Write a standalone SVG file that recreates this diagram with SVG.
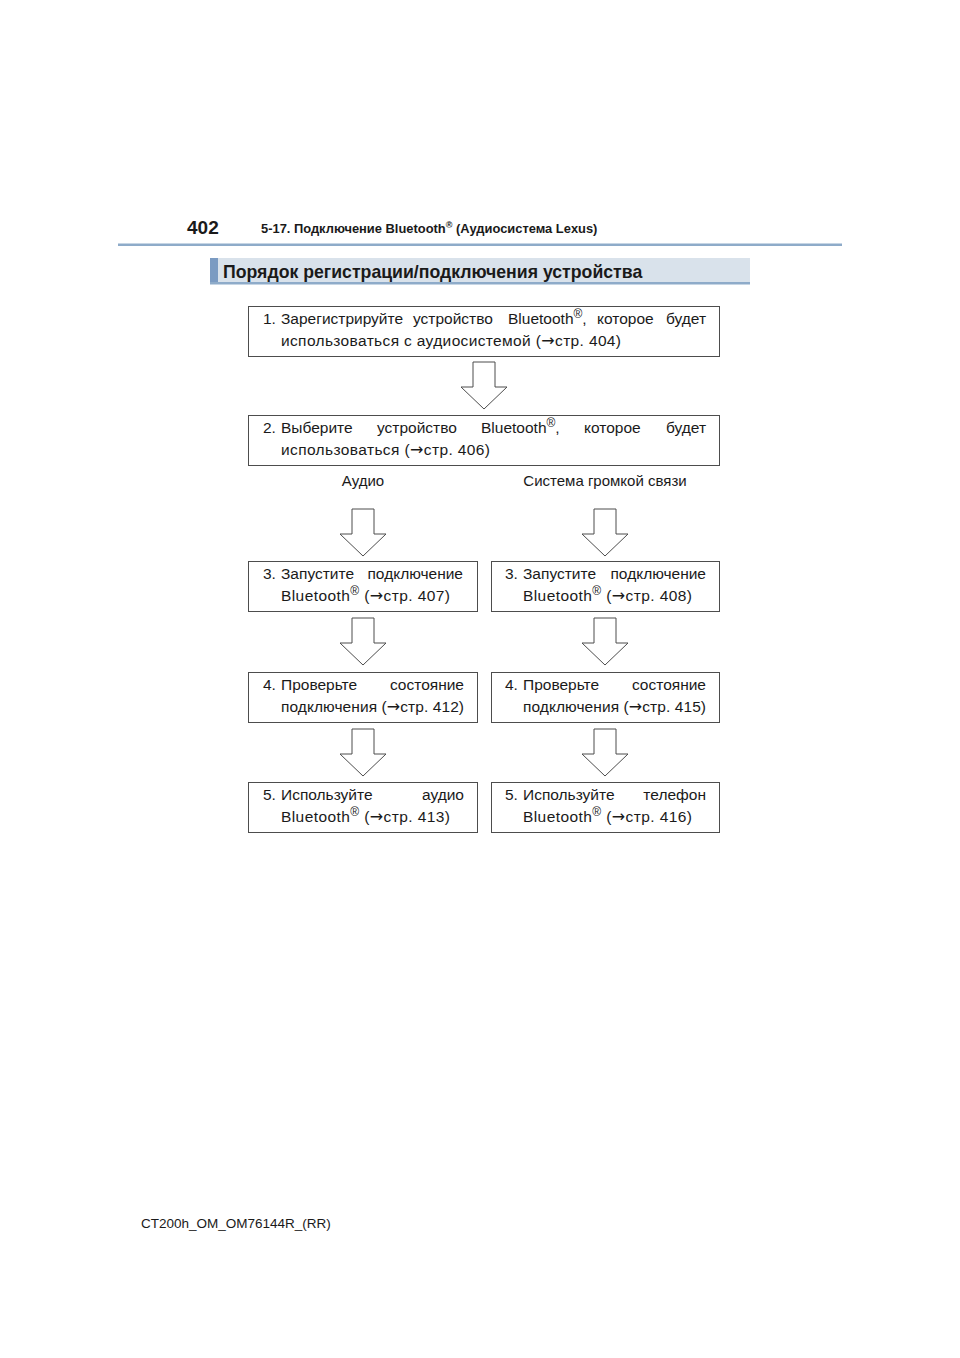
<svg xmlns="http://www.w3.org/2000/svg" xmlns:xlink="http://www.w3.org/1999/xlink" width="960" height="1358" viewBox="0 0 960 1358">
<style>
.t{font-family:"Liberation Sans",Arial,sans-serif;font-size:15.5px;fill:#1a1a1a}
.l{font-size:15px}
.e{text-anchor:end}
.m{text-anchor:middle}
.a{font-family:"DejaVu Sans",sans-serif;font-size:16px}
.r{font-size:12px}
.f{font-size:13.5px}
.box{fill:#fff;stroke:#4d4d4d;stroke-width:1}
.arr{fill:#fff;stroke:#4d4d4d;stroke-width:1}
.h{font-family:"Liberation Sans",Arial,sans-serif;font-weight:bold;fill:#1a1a1a}
</style>
<defs>
<path id="ar" d="M-11,0 H11 V25 H23 L0,47 L-23,25 H-11 Z"/>
</defs>
<rect width="960" height="1358" fill="#fff"/>
<g id="header">
<text class="h" x="187" y="234" font-size="19">402</text>
<text class="h" x="261" y="233" font-size="12.9">5-17. Подключение Bluetooth<tspan font-size="9" dy="-5">®</tspan><tspan dy="5"> (Аудиосистема Lexus)</tspan></text>
<rect x="118" y="243.5" width="724" height="2.5" fill="#8eabc9"/>
</g>
<g id="title">
<rect x="210" y="258" width="540" height="26" fill="#d9e2eb"/>
<rect x="210" y="258" width="8" height="26" fill="#7b9bc2"/>
<rect x="210" y="282" width="540" height="2.5" fill="#8eabc9"/>
<text class="h" x="223" y="278" font-size="17.7">Порядок регистрации/подключения устройства</text>
</g>
<g id="connectors">
<use xlink:href="#ar" class="arr" transform="translate(484,362)"/>
<use xlink:href="#ar" class="arr" transform="translate(363,509)"/>
<use xlink:href="#ar" class="arr" transform="translate(605,509)"/>
<use xlink:href="#ar" class="arr" transform="translate(363,618)"/>
<use xlink:href="#ar" class="arr" transform="translate(605,618)"/>
<use xlink:href="#ar" class="arr" transform="translate(363,729)"/>
<use xlink:href="#ar" class="arr" transform="translate(605,729)"/>
</g>
<g id="step1">
<rect class="box" x="248.5" y="306.5" width="471" height="50"/>
<text class="t" x="263" y="324">1.</text>
<text class="t" x="281" y="324">Зарегистрируйте</text>
<text class="t" x="413" y="324">устройство</text>
<text class="t" x="508" y="324">Bluetooth<tspan class="r" dy="-6">®</tspan><tspan dy="6">,</tspan></text>
<text class="t" x="597" y="324">которое</text>
<text class="t e" x="706" y="324">будет</text>
<text class="t" x="281" y="346" textLength="340" lengthAdjust="spacing">использоваться с аудиосистемой (<tspan class="a">→</tspan>стр. 404)</text>
</g>
<g id="step2">
<rect class="box" x="248.5" y="415.5" width="471" height="50"/>
<text class="t" x="263" y="433">2.</text>
<text class="t" x="281" y="433">Выберите</text>
<text class="t" x="377" y="433">устройство</text>
<text class="t" x="481" y="433">Bluetooth<tspan class="r" dy="-6">®</tspan><tspan dy="6">,</tspan></text>
<text class="t" x="584" y="433">которое</text>
<text class="t e" x="706" y="433">будет</text>
<text class="t" x="281" y="455" textLength="209" lengthAdjust="spacing">использоваться (<tspan class="a">→</tspan>стр. 406)</text>
</g>
<g id="label-audio">
<text class="t l m" x="363" y="486">Аудио</text>
</g>
<g id="label-handsfree">
<text class="t l m" x="605" y="486">Система громкой связи</text>
</g>
<g id="step3-audio">
<rect class="box" x="248.5" y="561.5" width="229" height="50"/>
<text class="t" x="263" y="579">3.</text>
<text class="t" x="281" y="579">Запустите</text>
<text class="t e" x="463" y="579">подключение</text>
<text class="t" x="281" y="601" textLength="169" lengthAdjust="spacing">Bluetooth<tspan class="r" dy="-6">®</tspan><tspan dy="6"> (</tspan><tspan class="a">→</tspan>стр. 407)</text>
</g>
<g id="step3-phone">
<rect class="box" x="491.5" y="561.5" width="228" height="50"/>
<text class="t" x="505" y="579">3.</text>
<text class="t" x="523" y="579">Запустите</text>
<text class="t e" x="706" y="579">подключение</text>
<text class="t" x="523" y="601" textLength="169" lengthAdjust="spacing">Bluetooth<tspan class="r" dy="-6">®</tspan><tspan dy="6"> (</tspan><tspan class="a">→</tspan>стр. 408)</text>
</g>
<g id="step4-audio">
<rect class="box" x="248.5" y="672.5" width="229" height="50"/>
<text class="t" x="263" y="690">4.</text>
<text class="t" x="281" y="690">Проверьте</text>
<text class="t e" x="464" y="690">состояние</text>
<text class="t" x="281" y="712" textLength="183" lengthAdjust="spacing">подключения (<tspan class="a">→</tspan>стр. 412)</text>
</g>
<g id="step4-phone">
<rect class="box" x="491.5" y="672.5" width="228" height="50"/>
<text class="t" x="505" y="690">4.</text>
<text class="t" x="523" y="690">Проверьте</text>
<text class="t e" x="706" y="690">состояние</text>
<text class="t" x="523" y="712" textLength="183" lengthAdjust="spacing">подключения (<tspan class="a">→</tspan>стр. 415)</text>
</g>
<g id="step5-audio">
<rect class="box" x="248.5" y="782.5" width="229" height="50"/>
<text class="t" x="263" y="800">5.</text>
<text class="t" x="281" y="800">Используйте</text>
<text class="t e" x="464" y="800">аудио</text>
<text class="t" x="281" y="822" textLength="169" lengthAdjust="spacing">Bluetooth<tspan class="r" dy="-6">®</tspan><tspan dy="6"> (</tspan><tspan class="a">→</tspan>стр. 413)</text>
</g>
<g id="step5-phone">
<rect class="box" x="491.5" y="782.5" width="228" height="50"/>
<text class="t" x="505" y="800">5.</text>
<text class="t" x="523" y="800">Используйте</text>
<text class="t e" x="706" y="800">телефон</text>
<text class="t" x="523" y="822" textLength="169" lengthAdjust="spacing">Bluetooth<tspan class="r" dy="-6">®</tspan><tspan dy="6"> (</tspan><tspan class="a">→</tspan>стр. 416)</text>
</g>
<g id="footer">
<text class="t f" x="141" y="1228">CT200h_OM_OM76144R_(RR)</text>
</g>
</svg>
